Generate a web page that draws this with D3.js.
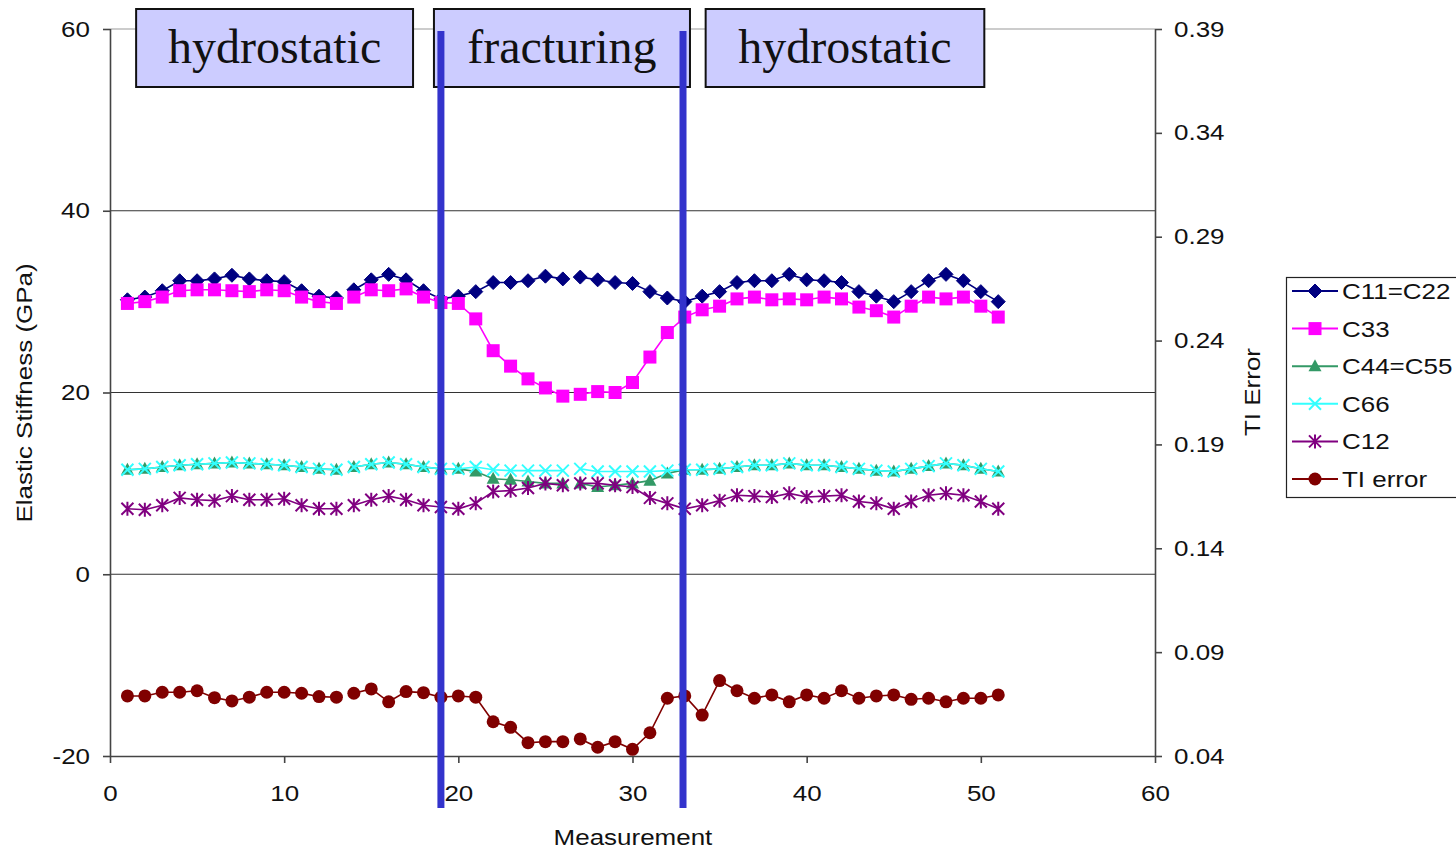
<!DOCTYPE html>
<html><head><meta charset="utf-8">
<script src="https://cdn.jsdelivr.net/npm/d3@7"></script>
<style>body{margin:0;background:#fff;overflow:hidden}svg{display:block}</style>
</head><body>
<svg id="chart" width="1456" height="851"></svg>
<script>
const measurements = d3.range(1, 52);
const c11 = [30.2,30.5,31.2,32.3,32.3,32.5,32.9,32.5,32.3,32.2,31.2,30.6,30.4,31.3,32.4,33.0,32.4,31.2,30.3,30.6,31.1,32.1,32.1,32.3,32.8,32.5,32.7,32.4,32.1,32.0,31.1,30.4,30.0,30.6,31.1,32.1,32.3,32.3,33.0,32.4,32.3,32.1,31.1,30.6,30.0,31.1,32.3,33.0,32.3,31.1,30.0];
const c33 = [29.8,30.0,30.5,31.2,31.3,31.3,31.2,31.1,31.3,31.2,30.5,30.0,29.8,30.5,31.3,31.2,31.4,30.5,29.9,29.8,28.1,24.6,22.9,21.5,20.5,19.6,19.8,20.1,20.0,21.1,23.9,26.6,28.3,29.1,29.5,30.3,30.5,30.2,30.3,30.2,30.5,30.3,29.4,29.0,28.3,29.5,30.5,30.3,30.5,29.5,28.3];
const c44 = [11.5,11.6,11.8,12.0,12.1,12.2,12.3,12.2,12.1,12.0,11.8,11.6,11.5,11.8,12.1,12.3,12.1,11.8,11.6,11.6,11.3,10.5,10.4,10.2,10.0,10.0,10.0,9.6,9.8,10.0,10.3,11.1,11.5,11.5,11.6,11.8,12.0,12.0,12.2,12.0,12.0,11.8,11.6,11.4,11.3,11.6,11.9,12.2,12.0,11.6,11.3];
const c66 = [11.5,11.6,11.8,12.0,12.1,12.2,12.3,12.2,12.1,12.0,11.8,11.6,11.5,11.8,12.1,12.3,12.1,11.8,11.6,11.6,11.8,11.5,11.4,11.4,11.4,11.4,11.6,11.3,11.3,11.3,11.3,11.4,11.5,11.5,11.6,11.8,12.0,12.0,12.2,12.0,12.0,11.8,11.6,11.4,11.3,11.6,11.9,12.2,12.0,11.6,11.3];
const c12 = [7.2,7.1,7.6,8.4,8.2,8.1,8.6,8.2,8.2,8.3,7.6,7.2,7.2,7.6,8.2,8.6,8.2,7.6,7.4,7.2,7.8,9.1,9.2,9.5,10.0,9.8,10.0,10.0,9.8,9.6,8.4,7.8,7.2,7.6,8.1,8.7,8.6,8.5,8.9,8.5,8.6,8.7,8.0,7.8,7.2,8.0,8.7,8.9,8.7,8.0,7.2];
const tiError = [0.0689,0.0689,0.0707,0.0707,0.0714,0.0681,0.0665,0.0683,0.0707,0.0707,0.0702,0.0686,0.0683,0.0702,0.0723,0.0661,0.0710,0.0705,0.0683,0.0689,0.0683,0.0565,0.0538,0.0464,0.0469,0.0469,0.0482,0.0442,0.0469,0.0432,0.0512,0.0678,0.0689,0.0597,0.0763,0.0714,0.0678,0.0694,0.0661,0.0694,0.0678,0.0714,0.0678,0.0689,0.0694,0.0673,0.0678,0.0661,0.0678,0.0678,0.0694];
const segmentBreaks = [13, 26]; // no connecting line after these measurements
const xTicks = [0,10,20,30,40,50,60];
const yLeftTicks = [-20,0,20,40,60];
const yRightTicks = [0.04,0.09,0.14,0.19,0.24,0.29,0.34,0.39];
const phaseLabels = ["hydrostatic","fracturing","hydrostatic"];
const phaseRanges = [[1.5,17.4],[18.6,33.3],[34.2,50.2]];
const phaseLines = [19, 32.9];

const svg = d3.select("#chart");
const L=110,R=1155,T=29,B=756;
const x = d3.scaleLinear().domain([0,60]).range([L,R]);
const y = d3.scaleLinear().domain([-20,60]).range([B,T]);
const y2 = d3.scaleLinear().domain([0.04,0.39]).range([B,T]);
const font = "'Liberation Sans', Arial, sans-serif";
const FS = 22, STRETCH = 1.18;
function stretch(sel){
  sel.each(function(){
    const w = this.getComputedTextLength();
    d3.select(this).attr("textLength", w*STRETCH).attr("lengthAdjust","spacingAndGlyphs");
  });
}

// gridlines
svg.append("g").selectAll("line").data([0,20,40,60]).join("line")
  .attr("x1",L).attr("x2",R).attr("y1",d=>y(d)).attr("y2",d=>y(d))
  .attr("stroke",d=>d===60?"#999":"#333").attr("stroke-width",1.2);

// axes
const gx = svg.append("g").attr("transform",`translate(0,${B})`)
  .call(d3.axisBottom(x).tickValues(xTicks).tickSize(7).tickPadding(22).tickFormat(d=>String(d)));
const gy = svg.append("g").attr("transform",`translate(${L},0)`)
  .call(d3.axisLeft(y).tickValues(yLeftTicks).tickSize(7).tickPadding(13).tickFormat(d=>String(d)));
const gy2 = svg.append("g").attr("transform",`translate(${R},0)`)
  .call(d3.axisRight(y2).tickValues(yRightTicks).tickSize(7).tickPadding(12).tickFormat(d3.format(".2f")));
[gx,gy,gy2].forEach(g=>{
  g.selectAll("path,line").attr("stroke","#444").attr("stroke-width",1.6);
  g.selectAll("text").attr("font-family",font).attr("font-size",FS).attr("fill","#111").call(stretch);
});
gx.select(".domain").attr("d",`M${L},0.5H${R}`);
gy.select(".domain").attr("d",`M0.5,${T}V${B}`);
gy2.select(".domain").attr("d",`M0.5,${T}V${B}`);

// axis titles
svg.append("text").attr("x",633).attr("y",845).attr("text-anchor","middle")
  .attr("font-family",font).attr("font-size",FS).attr("fill","#111").text("Measurement").call(stretch);
svg.append("text").attr("transform","translate(32,393) rotate(-90)").attr("text-anchor","middle")
  .attr("font-family",font).attr("font-size",FS).attr("fill","#111").text("Elastic Stiffness (GPa)").call(stretch);
svg.append("text").attr("transform","translate(1260,392) rotate(-90)").attr("text-anchor","middle")
  .attr("font-family",font).attr("font-size",FS).attr("fill","#111").text("TI Error").call(stretch);

// series
const series = [
  {name:"C11=C22", vals:c11, color:"#000080", sym:"diamond", sc:y},
  {name:"C33", vals:c33, color:"#ff00ff", sym:"square", sc:y},
  {name:"C44=C55", vals:c44, color:"#339966", sym:"triangle", sc:y},
  {name:"C66", vals:c66, color:"#33ffff", sym:"x", sc:y},
  {name:"C12", vals:c12, color:"#800080", sym:"star", sc:y},
  {name:"TI error", vals:tiError, color:"#800000", sym:"circle", sc:y2}
];

function drawMarker(g, sym, color, cx, cy){
  if(sym==="diamond"){
    g.append("path").attr("d",`M${cx},${cy-7}L${cx+7},${cy}L${cx},${cy+7}L${cx-7},${cy}Z`).attr("fill",color).attr("stroke",color);
  } else if(sym==="square"){
    g.append("rect").attr("x",cx-6.5).attr("y",cy-6.5).attr("width",13).attr("height",13).attr("fill",color);
  } else if(sym==="triangle"){
    g.append("path").attr("d",`M${cx},${cy-7}L${cx+6.5},${cy+5}L${cx-6.5},${cy+5}Z`).attr("fill",color);
  } else if(sym==="x"){
    g.append("path").attr("d",`M${cx-6},${cy-6}L${cx+6},${cy+6}M${cx+6},${cy-6}L${cx-6},${cy+6}`).attr("stroke",color).attr("stroke-width",2);
  } else if(sym==="star"){
    g.append("path").attr("d",`M${cx-6},${cy-6}L${cx+6},${cy+6}M${cx+6},${cy-6}L${cx-6},${cy+6}M${cx},${cy-7}L${cx},${cy+7}`).attr("stroke",color).attr("stroke-width",2);
  } else {
    g.append("circle").attr("cx",cx).attr("cy",cy).attr("r",6.5).attr("fill",color);
  }
}

series.forEach(s=>{
  const g = svg.append("g");
  const pts = s.vals.map((v,i)=>({m:measurements[i], v}));
  const segs = [];
  let cur=[];
  pts.forEach(p=>{ cur.push(p); if(segmentBreaks.includes(p.m)){segs.push(cur);cur=[];} });
  if(cur.length) segs.push(cur);
  const line = d3.line().x(d=>x(d.m)).y(d=>s.sc(d.v));
  segs.forEach(seg=>g.append("path").attr("d",line(seg)).attr("fill","none").attr("stroke",s.color).attr("stroke-width",1.6));
  pts.forEach(p=>drawMarker(g,s.sym,s.color,x(p.m),s.sc(p.v)));
});

// legend
const lg = svg.append("g");
lg.append("rect").attr("x",1286.5).attr("y",277.5).attr("width",180).attr("height",220).attr("fill","#fff").attr("stroke","#222").attr("stroke-width",1.2);
series.forEach((s,i)=>{
  const cy = 291 + i*37.6;
  lg.append("line").attr("x1",1292).attr("x2",1338).attr("y1",cy).attr("y2",cy).attr("stroke",s.color).attr("stroke-width",2);
  drawMarker(lg,s.sym,s.color,1315,cy);
  lg.append("text").attr("x",1342).attr("y",cy+8).attr("font-family",font).attr("font-size",FS).attr("fill","#111").text(s.name).call(stretch);
});

// phase boxes
const pg = svg.append("g");
phaseLabels.forEach((lab,i)=>{
  const [a,b] = phaseRanges[i];
  pg.append("rect").attr("x",x(a)).attr("y",9).attr("width",x(b)-x(a)).attr("height",78)
    .attr("fill","#ccccff").attr("stroke","#111").attr("stroke-width",2);
  pg.append("text").attr("x",(x(a)+x(b))/2).attr("y",63).attr("text-anchor","middle")
    .attr("font-family","'Liberation Serif','Times New Roman',serif").attr("font-size",48).attr("fill","#111").text(lab);
});

// phase boundary lines
svg.append("g").selectAll("line").data(phaseLines).join("line")
  .attr("x1",d=>x(d)).attr("x2",d=>x(d)).attr("y1",31).attr("y2",808)
  .attr("stroke","#3333cc").attr("stroke-width",7);
</script>
</body></html>
